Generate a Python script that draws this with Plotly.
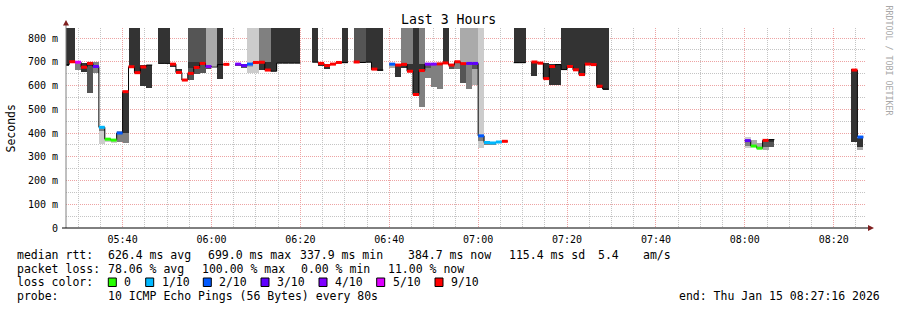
import pandas as pd
import plotly.graph_objects as go

# ---------------- data (ms) ----------------
STEP_S = 80
first_step = pd.Timestamp("2026-01-15 05:28:00")
t_start = pd.Timestamp("2026-01-15 05:27:16")
t_end = pd.Timestamp("2026-01-15 08:27:16")

med_step = [-1, 0, 1, 2, 3, 4, 5, 6, 7, 8, 9,
            10, 11, 12, 13,
            15, 16, 17, 18, 19, 20, 21, 22, 23, 24, 25, 26,
            28, 29, 30, 31, 32, 33, 34, 35, 36, 37, 38,
            41, 42, 43, 44, 45, 46,
            48, 49, 50, 51, 52,
            54, 55, 56, 57, 58, 59, 60, 61, 62, 63, 64, 65, 66, 67, 68, 69, 70, 71, 72, 73,
            75, 76,
            78, 79, 80, 81, 82, 83, 84, 85, 86, 87, 88, 89, 90,
            114, 115, 116, 117, 118,
            132, 133]
med_val = [688, 700, 698, 677, 693, 680, 424, 374, 370, 400, 574,
           679, 654, 678, 686,
           693, 693, 690, 655, 623, 651, 676, 693, 680, 678, 688, 689,
           690, 684, 690, 697, 698, 665, 660, 694, 694, 694, 694,
           698, 693, 684, 690, 697, 696,
           699, 697, 698, 669, 665,
           690, 686, 689, 660, 562, 663, 690, 690, 691, 695, 686, 700, 692, 693, 693, 388, 360, 358, 362, 365,
           696, 696,
           699, 694, 629, 680, 688, 667, 680, 666, 646, 690, 688, 597, 585,
           368, 345, 336, 369, 372,
           665, 383]
med_loss = [10, 9, 5, 9, 9, 3, 1, 0, 0, 2, 9,
            9, 9, 9, 10,
            10, 10, 9, 9, 9, 9, 9, 9, 4, 10, 10, 9,
            4, 3, 2, 9, 9, 9, 10, 10, 10, 10, 10,
            10, 9, 9, 9, 9, 10,
            9, 10, 10, 9, 10,
            2, 9, 9, 9, 9, 9, 4, 4, 9, 9, 9, 9, 9, 3, 3, 2, 1, 1, 1, 9,
            10, 10,
            9, 9, 9, 9, 10, 10, 9, 9, 9, 9, 9, 9, 10,
            3, 0, 0, 9, 10,
            9, 2]

# smoke segments: step, low, high, shade
seg_step = [-1, 0, 1, 2, 3, 3, 4, 5, 5, 6, 7, 8, 8, 9, 9, 10, 11, 12, 13, 15, 16, 17, 18,
            20, 20, 21, 21, 22, 23, 23, 24, 25, 28, 29, 30, 30, 31, 32, 32, 33, 33, 34, 35, 36, 37, 38,
            41, 42, 43, 46, 48, 49, 50, 51, 52,
            54, 55, 56, 56, 57, 57, 58, 59, 59, 60, 60, 61, 62, 63, 64, 65, 66, 66, 67, 67, 68, 68,
            69, 69, 70, 71, 75, 76, 78, 80, 81, 82, 83, 84, 85, 86, 87, 88, 89, 90,
            114, 114, 115, 116, 117, 117, 118, 118, 132, 133, 133]
seg_lo = [683, 700, 667, 658, 683, 568, 654, 355, 408, 362, 360, 362, 400, 360, 400, 677, 652, 600, 590, 693, 693, 678, 652,
          623, 672, 650, 672, 651, 683, 672, 683, 629, 684, 672, 651, 680, 651, 700, 665, 700, 660, 659, 694, 694, 694, 694,
          698, 683, 668, 696, 700, 696, 698, 664, 663,
          674, 636, 690, 675, 690, 656, 557, 511, 659, 633, 675, 592, 586, 696, 671, 671, 695, 609, 695, 584, 602, 670,
          337, 365, 350, 352, 696, 696, 642, 627, 602, 602, 667, 675, 663, 642, 686, 684, 591, 583,
          336, 345, 340, 332, 330, 342, 342, 363, 363, 330, 340]
seg_hi = [842, 842, 700, 696, 698, 683, 699, 408, 421, 378, 375, 400, 408, 400, 574, 842, 842, 686, 686, 842, 842, 693, 668,
          842, 700, 842, 700, 842, 842, 680, 842, 842, 690, 690, 842, 690, 842, 842, 694, 842, 700, 842, 842, 842, 842, 842,
          842, 695, 690, 842, 842, 842, 842, 842, 842,
          688, 690, 842, 690, 842, 690, 842, 842, 689, 690, 688, 690, 690, 842, 690, 698, 842, 690, 842, 690, 842, 690,
          842, 382, 368, 360, 842, 842, 698, 696, 690, 690, 842, 842, 842, 842, 842, 842, 842, 842,
          384, 365, 372, 360, 345, 372, 363, 375, 669, 340, 380]
seg_shade = ["D", "D", "G", "D", "D", "M", "G", "P", "G", "P", "P", "G", "L", "G", "D", "D", "D", "D", "D", "D", "D", "D", "D",
             "M", "D", "M", "D", "M", "L", "M", "L", "D", "M", "M", "P", "L", "P", "G", "D", "G", "D", "D", "D", "D", "D", "D",
             "D", "D", "D", "D", "M", "M", "D", "D", "D",
             "L", "D", "G", "D", "G", "D", "D", "G", "D", "G", "M", "G", "G", "D", "M", "G", "L", "M", "L", "G", "L", "M",
             "P", "G", "G", "G", "D", "D", "D", "D", "D", "D", "D", "D", "D", "D", "D", "D", "D", "D",
             "P", "G", "L", "L", "L", "M", "M", "D", "D", "L", "D"]

loss_labels = ["0", "1/10", "2/10", "3/10", "4/10", "5/10", "9/10"]
loss_levels = [0, 1, 2, 3, 4, 5, 9]

stats_rtt = ["626.4 ms avg", "699.0 ms max", "337.9 ms min", "384.7 ms now", "115.4 ms sd", "5.4", "am/s"]
stats_loss = ["78.06 % avg", "100.00 % max", "0.00 % min", "11.00 % now"]
probe_text = "10 ICMP Echo Pings (56 Bytes) every 80s"
end_text = "end: Thu Jan 15 08:27:16 2026"

# ---------------- styling ----------------
SHADES = {"P": "#cccccc", "L": "#aaaaaa", "G": "#808080", "M": "#555555", "D": "#333333"}
LOSS_COLORS = {0: "#26ff00", 1: "#00b8ff", 2: "#0059ff", 3: "#5e00ff", 4: "#7e00ff", 5: "#dd00ff",
               6: "#ff0000", 7: "#ff0000", 8: "#ff0000", 9: "#ff0000"}
MONO = "DejaVu Sans Mono"

L_PX, R_PX, T_PX, B_PX = 66, 866, 28, 228
W, H = 897, 310
Y_TOP = 842.1


def px(x):
    return (x - L_PX) / (R_PX - L_PX)


def py(y):
    return (B_PX - y) / (B_PX - T_PX)


def st(k):
    return first_step + pd.Timedelta(seconds=STEP_S * k)


fig = go.Figure()

# invisible trace that carries the minor-grid axes
fig.add_trace(go.Scatter(x=[t_start], y=[0], xaxis="x2", yaxis="y2", mode="markers",
                         marker=dict(opacity=0), hoverinfo="skip"))

# smoke
for shade in ["P", "L", "G", "M", "D"]:
    xs, ys, bs = [], [], []
    for k, lo, hi, s in zip(seg_step, seg_lo, seg_hi, seg_shade):
        if s == shade:
            xs.append(st(k) + pd.Timedelta(seconds=STEP_S / 2))
            ys.append(hi - lo)
            bs.append(lo)
    fig.add_trace(go.Bar(x=xs, y=ys, base=bs, width=STEP_S * 1000,
                         marker=dict(color=SHADES[shade], line=dict(width=0)),
                         hoverinfo="skip"))

# black median step line
lx, ly = [], []
prev = None
for k, v in zip(med_step, med_val):
    if prev is not None and k != prev[0] + 1:
        lx += [st(prev[0] + 1), None]
        ly += [prev[1], None]
    lx.append(st(k))
    ly.append(v)
    prev = (k, v)
lx.append(st(prev[0] + 1))
ly.append(prev[1])
fig.add_trace(go.Scatter(x=lx, y=ly, mode="lines", line=dict(color="#000000", width=1, shape="hv"),
                         connectgaps=False, hoverinfo="skip"))

# coloured median segments
by_color = {}
for k, v, l in zip(med_step, med_val, med_loss):
    if l in LOSS_COLORS:
        c = LOSS_COLORS[l]
        bx, byy = by_color.setdefault(c, ([], []))
        bx += [st(k), st(k + 1), None]
        byy += [v, v, None]
for c, (bx, byy) in by_color.items():
    fig.add_trace(go.Scatter(x=bx, y=byy, mode="lines", line=dict(color=c, width=3),
                             connectgaps=False, hoverinfo="skip"))

minor_col = "#c4c4c4"
major_col = "#eda3a3"
minor_x = []
t = pd.Timestamp("2026-01-15 05:30:00")
while t < t_end:
    if t.minute % 20 != 0:
        minor_x.append(t)
    t += pd.Timedelta(minutes=5)
minor_y = list(range(50, 850, 100))

shapes = []
# axes
shapes.append(dict(type="line", xref="paper", yref="paper", x0=px(66), x1=px(66), y0=py(228), y1=py(24),
                   line=dict(color="#808080", width=1)))
shapes.append(dict(type="line", xref="paper", yref="paper", x0=px(62), x1=px(869), y0=py(228), y1=py(228),
                   line=dict(color="#000000", width=1)))
shapes.append(dict(type="path", xref="paper", yref="paper",
                   path=f"M {px(63)},{py(25.5)} L {px(69)},{py(25.5)} L {px(66)},{py(20)} Z",
                   fillcolor="#7f1f1f", line=dict(width=0)))
shapes.append(dict(type="path", xref="paper", yref="paper",
                   path=f"M {px(868)},{py(225)} L {px(868)},{py(231)} L {px(874)},{py(228)} Z",
                   fillcolor="#7f1f1f", line=dict(width=0)))

annotations = []


def txt(x, y, s, size=11.5, color="#000000", angle=0, xanchor="left"):
    annotations.append(dict(x=px(x), y=py(y), xref="paper", yref="paper", text=s, showarrow=False,
                            xanchor=xanchor, yanchor="middle", textangle=angle,
                            font=dict(family=MONO, size=size, color=color)))


txt(448, 19.5, "Last 3 Hours", size=13.2, xanchor="center")
txt(10.5, 128, "Seconds", size=11.5, angle=-90, xanchor="center")
txt(888.5, 60, "RRDTOOL / TOBI OETIKER", size=8.3, color="#a8a8a8", angle=90, xanchor="center")

row_y = [254.5, 268.5, 282, 296]
txt(15, row_y[0], "median rtt:")
for xx, s in zip([106.3, 206.3, 298.3, 406.3, 506.7, 595.7, 641.3], stats_rtt):
    txt(xx, row_y[0], s)
txt(15, row_y[1], "packet loss:")
for xx, s in zip([106.3, 199.7, 299, 385.7], stats_loss):
    txt(xx, row_y[1], s)
txt(15, row_y[2], "loss color:")
box_x = [108.3, 145.7, 203.3, 261, 319, 376.7, 435]
for bx, lab, lv in zip(box_x, loss_labels, loss_levels):
    shapes.append(dict(type="rect", xref="paper", yref="paper", x0=px(bx), x1=px(bx + 8),
                       y0=py(286.5), y1=py(278), fillcolor=LOSS_COLORS[lv],
                       line=dict(color="#000000", width=1)))
    txt(bx + 14, row_y[2], lab)
txt(15, row_y[3], "probe:")
txt(106.3, row_y[3], probe_text)
txt(677.3, row_y[3], end_text)

yticks = list(range(0, 900, 100))
fig.update_layout(
    width=W, height=H, autosize=False,
    margin=dict(l=L_PX, r=W - R_PX, t=T_PX, b=H - B_PX, pad=0),
    paper_bgcolor="#ffffff", plot_bgcolor="#ffffff",
    barmode="overlay", bargap=0, showlegend=False,
    shapes=shapes, annotations=annotations,
    xaxis=dict(type="date", range=[t_start, t_end], tickformat="%H:%M", dtick=20 * 60 * 1000,
               tick0="2026-01-15 05:40:00", showgrid=True, gridcolor=major_col, griddash="1px,1px",
               gridwidth=1, zeroline=False, showline=False,
               ticks="outside", ticklen=2, tickcolor="rgba(0,0,0,0)",
               tickfont=dict(family=MONO, size=10, color="#000000")),
    yaxis=dict(range=[0, Y_TOP], tickmode="array", tickvals=yticks,
               ticktext=["0"] + [f"{v} m" for v in yticks[1:]],
               showgrid=True, gridcolor=major_col, griddash="1px,1px", gridwidth=1,
               zeroline=False, showline=False,
               ticks="outside", ticklen=5, tickcolor="rgba(0,0,0,0)",
               tickfont=dict(family=MONO, size=10, color="#000000")),
    xaxis2=dict(type="date", overlaying="x", range=[t_start, t_end], tickmode="array", tickvals=minor_x,
                showticklabels=False, ticks="", showgrid=True, gridcolor=minor_col, griddash="1px,1px",
                gridwidth=1, zeroline=False, showline=False),
    yaxis2=dict(overlaying="y", range=[0, Y_TOP], tickmode="array", tickvals=minor_y,
                showticklabels=False, ticks="", showgrid=True, gridcolor=minor_col, griddash="1px,1px",
                gridwidth=1, zeroline=False, showline=False),
)

fig.write_html("out.html")
